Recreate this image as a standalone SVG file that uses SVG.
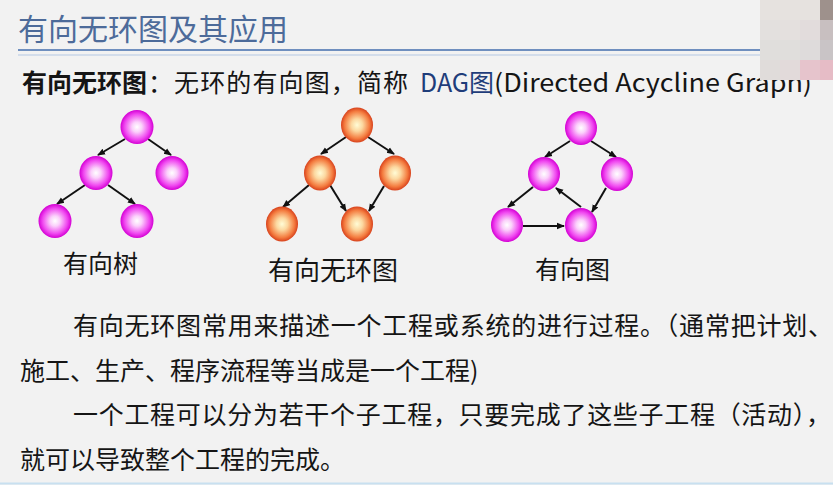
<svg xmlns="http://www.w3.org/2000/svg" width="833" height="485" viewBox="0 0 833 485">
<style>
.t{font-family:"Noto Sans CJK SC","Liberation Sans",sans-serif;fill:#151515}
.p{font-size:25px}
.edge{stroke:#111;stroke-width:2;fill:none;marker-end:url(#ah)}
.mg{fill:url(#gm)}
.or{fill:url(#go)}
</style>
<defs>
<radialGradient id="gm" cx="0.5" cy="0.5" r="0.5">
<stop offset="0" stop-color="#ffffff"/>
<stop offset="0.3" stop-color="#fbd0fb"/>
<stop offset="0.75" stop-color="#f048f0"/>
<stop offset="1" stop-color="#d400d4"/>
</radialGradient>
<radialGradient id="go" cx="0.5" cy="0.5" r="0.5">
<stop offset="0" stop-color="#fffcd6"/>
<stop offset="0.35" stop-color="#fcd8a0"/>
<stop offset="0.78" stop-color="#f47c40"/>
<stop offset="1" stop-color="#d8421c"/>
</radialGradient>
<marker id="ah" markerWidth="8" markerHeight="8" refX="7" refY="4" orient="auto" markerUnits="userSpaceOnUse">
<path d="M0,0.8 L8,4 L0,7.2 Z" fill="#111"/>
</marker>
</defs>
<rect width="833" height="485" fill="#f2f2f2"/>
<!-- title -->
<text class="t" x="18" y="40" style="font-size:30px;fill:#4d6b9a">有向无环图及其应用</text>
<line x1="18" y1="50" x2="760" y2="50" stroke="#6f8fbf" stroke-width="2"/>
<line x1="18" y1="55" x2="760" y2="55" stroke="#c9d6e8" stroke-width="1.5"/>
<!-- definition line -->
<text class="t p" y="92"><tspan x="22" font-weight="bold">有向无环图</tspan><tspan x="148" textLength="260" lengthAdjust="spacing">：无环的有向图，简称</tspan><tspan x="420" style="fill:#1f3d7a">DAG图</tspan><tspan x="494" textLength="318" lengthAdjust="spacingAndGlyphs">(Directed Acycline Graph)</tspan></text>
<!-- mosaic -->
<g id="mosaic">
<rect x="760" y="0" width="60" height="20" fill="#e6e2df"/>
<rect x="820" y="0" width="13" height="20" fill="#9e918c"/>
<rect x="760" y="20" width="20" height="20" fill="#e3e0de"/>
<rect x="780" y="20" width="20" height="20" fill="#e4e0de"/>
<rect x="800" y="20" width="20" height="20" fill="#e2dcdc"/>
<rect x="820" y="20" width="13" height="20" fill="#c8bfc0"/>
<rect x="760" y="40" width="40" height="20" fill="#e0dedc"/>
<rect x="800" y="40" width="20" height="20" fill="#dedbdb"/>
<rect x="820" y="40" width="13" height="20" fill="#c9c4c6"/>
<rect x="760" y="60" width="20" height="20" fill="#e0dcda"/>
<rect x="780" y="60" width="20" height="20" fill="#e2dada"/>
<rect x="800" y="60" width="20" height="20" fill="#e6c4cc"/>
<rect x="820" y="60" width="13" height="20" fill="#e6bcc6"/>
</g>
<!-- connectors -->
<g id="connectors">
<line class="edge" x1="125" y1="139" x2="98" y2="155"/>
<line class="edge" x1="148" y1="139" x2="171" y2="155"/>
<line class="edge" x1="85" y1="185" x2="57" y2="204"/>
<line class="edge" x1="108" y1="185" x2="135" y2="204"/>
<line class="edge" x1="346" y1="137" x2="321" y2="154"/>
<line class="edge" x1="368" y1="137" x2="394" y2="154"/>
<line class="edge" x1="309" y1="185" x2="283" y2="207"/>
<line class="edge" x1="330" y1="185" x2="346" y2="211"/>
<line class="edge" x1="384" y1="186" x2="369" y2="211"/>
<line class="edge" x1="570" y1="141" x2="545" y2="157"/>
<line class="edge" x1="591" y1="141" x2="616" y2="157"/>
<line class="edge" x1="533" y1="187" x2="508" y2="207"/>
<line class="edge" x1="606" y1="188" x2="592" y2="212"/>
<line class="edge" x1="523" y1="226" x2="564" y2="226"/>
<line class="edge" x1="581" y1="207" x2="556" y2="188"/>
</g>
<!-- tree 1 -->
<g id="tree1">
<ellipse class="mg" cx="137" cy="127" rx="16.5" ry="17"/>
<ellipse class="mg" cx="96" cy="173" rx="16.5" ry="17"/>
<ellipse class="mg" cx="172" cy="173" rx="16.5" ry="17"/>
<ellipse class="mg" cx="55" cy="221" rx="16.5" ry="17"/>
<ellipse class="mg" cx="137" cy="221" rx="16.5" ry="17"/>
<text class="t p" x="63" y="273">有向树</text>
</g>
<!-- DAG -->
<g id="dag">
<ellipse class="or" cx="357" cy="125" rx="16" ry="17.5"/>
<ellipse class="or" cx="320" cy="173" rx="16" ry="17.5"/>
<ellipse class="or" cx="395" cy="173" rx="16" ry="17.5"/>
<ellipse class="or" cx="282" cy="224" rx="16" ry="17.5"/>
<ellipse class="or" cx="357" cy="224" rx="16" ry="17.5"/>
<text class="t" x="268" y="280" style="font-size:26px">有向无环图</text>
</g>
<!-- digraph -->
<g id="digraph">
<ellipse class="mg" cx="581" cy="128" rx="16" ry="17"/>
<ellipse class="mg" cx="544" cy="174" rx="16" ry="17"/>
<ellipse class="mg" cx="617" cy="174" rx="16" ry="17"/>
<ellipse class="mg" cx="507" cy="225" rx="16" ry="17"/>
<ellipse class="mg" cx="581" cy="225" rx="16" ry="17"/>
<text class="t p" x="535" y="279">有向图</text>
</g>
<!-- paragraphs -->
<text class="t p" x="73" y="335" textLength="760" lengthAdjust="spacing">有向无环图常用来描述一个工程或系统的进行过程。（通常把计划、</text>
<text class="t p" x="20" y="380">施工、生产、程序流程等当成是一个工程)</text>
<text class="t p" x="73" y="424" textLength="758" lengthAdjust="spacing">一个工程可以分为若干个子工程，只要完成了这些子工程（活动），</text>
<text class="t p" x="20" y="469">就可以导致整个工程的完成。</text>
<line x1="0" y1="483.5" x2="833" y2="483.5" stroke="#c8e0f0" stroke-width="2"/>
</svg>
